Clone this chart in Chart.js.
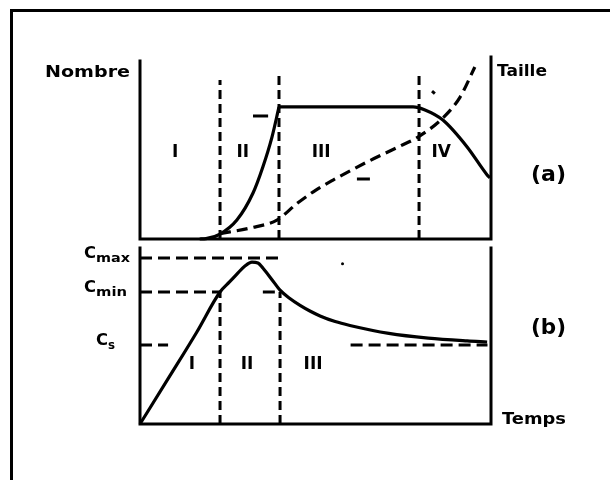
<!DOCTYPE html>
<html>
<head>
<meta charset="utf-8">
<script src="https://cdn.jsdelivr.net/npm/chart.js@4.4.1/dist/chart.umd.min.js"></script>
<style>
  html, body { margin:0; padding:0; background:#fff; }
  body { width:610px; height:480px; position:relative; overflow:hidden; }
  #frame { position:absolute; left:10px; top:9px; width:610px; height:480px;
           border-top:3px solid #000; border-left:3px solid #000; box-sizing:border-box; }
  canvas { position:absolute; left:0; }
  #cA { top:0; }
  #cB { top:244px; }
</style>
</head>
<body>
<div id="frame"></div>
<canvas id="cA" width="610" height="244"></canvas>
<canvas id="cB" width="610" height="236"></canvas>
<script>
// ---------- Data (time axis 0..10, value axes 0..10) ----------
// Panel (a): number of particles (solid, left axis "Nombre") - growth part
const nombreRiseT = [1.70, 1.88, 2.28, 2.76, 3.22, 3.50, 3.76, 3.96];
const nombreRiseV = [0.00, 0.02, 0.28, 1.07, 2.60, 4.07, 5.76, 7.46];
// plateau and decline part
const nombreFallT = [3.96, 7.78, 8.12, 8.63, 9.32, 9.89, 9.97];
const nombreFallV = [7.46, 7.46, 7.29, 6.72, 5.20, 3.62, 3.45];
// Panel (a): particle size (dashed, right axis "Taille")
const tailleT = [2.28, 3.13, 3.90, 4.47, 5.00, 5.50, 6.47, 7.41, 7.92, 8.63, 9.12, 9.54];
const tailleV = [0.30, 0.62, 1.07, 2.00, 2.75, 3.33, 4.35, 5.25, 5.76, 6.84, 8.02, 9.72];
// Panel (a): phase boundaries and their top ends
const phaseA = [2.28, 3.96, 7.95];
const phaseTopA = [8.98, 9.27, 9.44];
const regionA = ['I', 'II', 'III', 'IV'];
const regionAT = [1.00, 2.93, 5.16, 8.58];
const regionAY = 4.86;

// Panel (b): concentration
const concT = [0.00, 0.85, 1.62, 2.28, 2.55, 2.76, 2.99, 3.19, 3.36, 3.50, 3.76, 3.99, 4.27, 4.56, 4.84, 5.13, 5.56, 5.98, 7.09, 8.21, 9.32, 9.89];
const concV = [0.00, 2.73, 5.23, 7.50, 8.07, 8.52, 8.98, 9.20, 9.15, 8.86, 8.20, 7.61, 7.13, 6.74, 6.42, 6.14, 5.82, 5.60, 5.15, 4.88, 4.72, 4.66];
// Panel (b): concentration levels C_max, C_min, C_s
const levelSub = ['max', 'min', 's'];
const levelV = [9.43, 7.50, 4.49];
const phaseB = [2.28, 3.99];
const regionB = ['I', 'II', 'III'];
const regionBT = [1.48, 3.05, 4.93];
const regionBY = 3.35;

// ---------- helpers ----------
const pts = (xs, ys) => xs.map((x, i) => ({x: x, y: ys[i]}));
const FONT = '"DejaVu Sans", "Liberation Sans", Arial, sans-serif';
function fitText(ctx, txt, x, y, w, font, baseline) {
  ctx.save();
  ctx.font = font;
  ctx.textBaseline = baseline || 'alphabetic';
  ctx.textAlign = 'left';
  ctx.fillStyle = '#000';
  const m = ctx.measureText(txt).width;
  ctx.translate(x, y);
  ctx.scale(w / m, 1);
  ctx.fillText(txt, 0, 0);
  ctx.restore();
}
function centerText(ctx, txt, x, y, font) {
  ctx.save();
  ctx.font = font; ctx.fillStyle = '#000';
  ctx.textAlign = 'center'; ctx.textBaseline = 'middle';
  ctx.fillText(txt, x, y);
  ctx.restore();
}
function seg(x0, y0, x1, y1, dash, axis) {
  return {data: [{x: x0, y: y0}, {x: x1, y: y1}], borderColor: '#000', borderWidth: 3,
          borderDash: dash || [], tension: 0, showLine: true, pointRadius: 0, clip: false,
          yAxisID: axis || 'y'};
}
function curve(xs, ys, dash, axis) {
  return {data: pts(xs, ys), borderColor: '#000', borderWidth: 3.2, borderDash: dash || [],
          showLine: true, pointRadius: 0, cubicInterpolationMode: 'monotone', clip: false,
          yAxisID: axis || 'y', borderCapStyle: 'butt', borderJoinStyle: 'round'};
}
function axesPlugin(extraLeftTop, extraRightTop) {
  return {
    id: 'axes',
    afterDatasetsDraw(chart) {
      const a = chart.chartArea, ctx = chart.ctx;
      ctx.save();
      ctx.strokeStyle = '#000'; ctx.lineWidth = 3; ctx.lineCap = 'square';
      ctx.beginPath();
      ctx.moveTo(a.left, a.top - extraLeftTop); ctx.lineTo(a.left, a.bottom);
      ctx.lineTo(a.right, a.bottom); ctx.lineTo(a.right, a.top - extraRightTop);
      ctx.stroke();
      ctx.restore();
    }
  };
}
const baseOptions = (pad) => ({
  responsive: false, animation: false, events: [],
  layout: {padding: pad},
  scales: {
    x: {type: 'linear', min: 0, max: 10, display: false},
    y: {type: 'linear', min: 0, max: 10, display: false},
    y2: {type: 'linear', min: 0, max: 10, display: false, position: 'right'}
  },
  plugins: {legend: {display: false}, tooltip: {enabled: false}}
});

// ---------- Panel (a) ----------
const dsA = [
  curve(nombreRiseT, nombreRiseV),
  curve(nombreFallT, nombreFallV),
  curve(tailleT, tailleV, [11, 6], 'y2')
];
phaseA.forEach((t, i) => dsA.push(seg(t, 0, t, phaseTopA[i], [9, 5])));
// small arrows pointing to the respective axes
dsA.push(seg(3.22, 6.95, 3.65, 6.95));
dsA.push(seg(6.18, 3.39, 6.55, 3.39, [], 'y2'));
dsA.push(seg(8.32, 8.36, 8.40, 8.22));

new Chart(document.getElementById('cA'), {
  type: 'scatter',
  data: {datasets: dsA},
  options: baseOptions({left: 140, right: 119, top: 62, bottom: 5}),
  plugins: [axesPlugin(1, 5), {
    id: 'labelsA',
    afterDraw(chart) {
      const ctx = chart.ctx, x = chart.scales.x, y = chart.scales.y;
      regionA.forEach((r, i) => centerText(ctx, r, x.getPixelForValue(regionAT[i]), y.getPixelForValue(regionAY), 'bold 17px ' + FONT));
      fitText(ctx, 'Nombre', 45, 77, 85, 'bold 16px ' + FONT);
      fitText(ctx, 'Taille', 497, 76, 50, 'bold 16px ' + FONT);
      fitText(ctx, '(a)', 531, 175, 35, 'bold 22px ' + FONT, 'middle');
    }
  }]
});

// ---------- Panel (b) ----------
const dsB = [curve(concT, concV)];
dsB.push(seg(0, levelV[0], 3.99, levelV[0], [12, 6]));
dsB.push(seg(0, levelV[1], 2.28, levelV[1], [12, 6]));
dsB.push(seg(3.50, levelV[1], 3.99, levelV[1], [12, 6]));
dsB.push(seg(0, levelV[2], 0.80, levelV[2], [12, 6]));
dsB.push(seg(6.00, levelV[2], 9.90, levelV[2], [12, 6]));
phaseB.forEach(t => dsB.push(seg(t, 0, t, levelV[1], [9, 5])));
dsB.push({data: [{x: 5.77, y: 9.1}], pointRadius: 1.5, pointBackgroundColor: '#000', pointBorderWidth: 0, showLine: false, clip: false});

new Chart(document.getElementById('cB'), {
  type: 'scatter',
  data: {datasets: dsB},
  options: baseOptions({left: 140, right: 119, top: 4, bottom: 56}),
  plugins: [axesPlugin(0, 0), {
    id: 'labelsB',
    afterDraw(chart) {
      const ctx = chart.ctx, x = chart.scales.x, y = chart.scales.y;
      regionB.forEach((r, i) => centerText(ctx, r, x.getPixelForValue(regionBT[i]), y.getPixelForValue(regionBY), 'bold 17px ' + FONT));
      const cLeft = [84, 84, 96], cW = [12, 12, 12], sW = [34, 31, 7];
      levelSub.forEach((s, i) => {
        const py = y.getPixelForValue(levelV[i]);
        fitText(ctx, 'C', cLeft[i], py, cW[i], 'bold 15px ' + FONT);
        fitText(ctx, s, cLeft[i] + cW[i], py + 4, sW[i], 'bold 12px ' + FONT);
      });
      fitText(ctx, 'Temps', 502, 180, 64, 'bold 16px ' + FONT);
      fitText(ctx, '(b)', 531, 84.5, 35, 'bold 22px ' + FONT, 'middle');
    }
  }]
});
</script>
</body>
</html>
